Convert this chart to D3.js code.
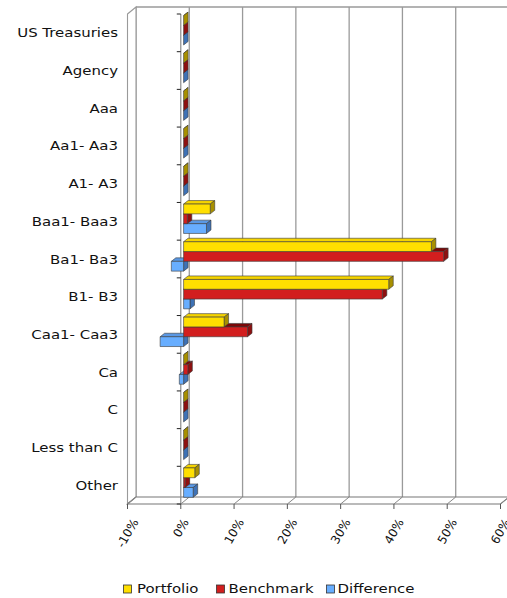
<!DOCTYPE html>
<html><head><meta charset="utf-8">
<script src="https://cdn.jsdelivr.net/npm/d3@7"></script>
<style>
html,body{margin:0;padding:0;background:#fff;}
svg{display:block;}
text{font-family:"DejaVu Sans",Verdana,sans-serif;fill:#111;}
</style></head>
<body>
<svg id="chart" width="507" height="598"></svg>
<script>
// ---- data ----
const categories = ["US Treasuries","Agency","Aaa","Aa1- Aa3","A1- A3","Baa1- Baa3","Ba1- Ba3","B1- B3","Caa1- Caa3","Ca","C","Less than C","Other"];
const portfolio  = [0,0,0,0,0,5.0,46.5,38.5,7.6,0,0,0,2.1];
const benchmark  = [0,0,0,0,0,0.7,48.8,37.3,12.0,0.8,0,0,0.3];
const difference = [0,0,0,0,0,4.3,-2.3,1.2,-4.4,-0.8,0,0,1.8];
const seriesNames = ["Portfolio","Benchmark","Difference"];
const tickValues = [-10,0,10,20,30,40,50,60];

const seriesColors = {
  Portfolio:  {front:"#FFDF00", top:"#F5D400", side:"#A89000"},
  Benchmark:  {front:"#D21E1E", top:"#7A0808", side:"#8E1010"},
  Difference: {front:"#68AEFF", top:"#5A98E4", side:"#3E72B6"}
};

const svg = d3.select("#chart");

// ---- geometry ----
const x = d3.scaleLinear().domain([-10,60]).range([127.5,500.5]);
const y = d3.scaleBand().domain(categories).range([14,504]);
const DX = 8.5, DY = -7;          // chart depth
const bx = 2.8, by = -2.2;        // bar front-plane offset
const bdx = 4.5, bdy = -3.5;      // bar depth
const pad = 3.8, bh = 9.8;
const yInner = d3.scaleBand().domain(seriesNames).range([pad, pad + 3*bh]);

const gridColor = "#9a9a9a";

// back wall
svg.append("rect").attr("x", x(-10)+DX).attr("y", y.range()[0]+DY)
  .attr("width", 600).attr("height", y.range()[1]-y.range()[0]).attr("fill","#fff");

// back wall vertical gridlines
svg.append("g").selectAll("line").data(tickValues).join("line")
  .attr("x1", d => x(d)+DX).attr("x2", d => x(d)+DX)
  .attr("y1", y.range()[0]+DY).attr("y2", y.range()[1]+DY)
  .attr("stroke", gridColor).attr("stroke-width", 1.3);

// back wall top edge
svg.append("line").attr("x1", x(-10)+DX).attr("x2", 520)
  .attr("y1", y.range()[0]+DY).attr("y2", y.range()[0]+DY)
  .attr("stroke", gridColor).attr("stroke-width", 1.3);

// left wall
const lw = [[x(-10), y.range()[0]], [x(-10)+DX, y.range()[0]+DY], [x(-10)+DX, y.range()[1]+DY], [x(-10), y.range()[1]]];
svg.append("polygon").attr("points", lw.map(p=>p.join(",")).join(" "))
  .attr("fill","#fff").attr("stroke", gridColor).attr("stroke-width", 1.1);

// floor
const fl = [[x(-10), y.range()[1]], [x(-10)+DX, y.range()[1]+DY], [x(60)+DX, y.range()[1]+DY], [x(60), y.range()[1]]];
svg.append("polygon").attr("points", fl.map(p=>p.join(",")).join(" "))
  .attr("fill","#fff").attr("stroke", "#777").attr("stroke-width", 1.1);
svg.append("g").selectAll("line").data(tickValues).join("line")
  .attr("x1", d => x(d)).attr("x2", d => x(d)+DX)
  .attr("y1", y.range()[1]).attr("y2", y.range()[1]+DY)
  .attr("stroke", "#888").attr("stroke-width", 1);
// floor front ticks
svg.append("g").selectAll("line").data(tickValues).join("line")
  .attr("x1", d => x(d)).attr("x2", d => x(d))
  .attr("y1", y.range()[1]).attr("y2", y.range()[1]+5)
  .attr("stroke", "#555").attr("stroke-width", 1);

// category axis at 0
svg.append("line").attr("x1", x(0)).attr("x2", x(0))
  .attr("y1", y.range()[0]).attr("y2", y.range()[1])
  .attr("stroke", "#8a8a8a").attr("stroke-width", 1.2);
const bounds = categories.map(c => y(c)).concat([y.range()[1]]);
svg.append("g").selectAll("line").data(bounds).join("line")
  .attr("x1", x(0)-4).attr("x2", x(0))
  .attr("y1", d => d).attr("y2", d => d)
  .attr("stroke", "#222").attr("stroke-width", 1);

// bars
const seriesData = {Portfolio: portfolio, Benchmark: benchmark, Difference: difference};
const barsG = svg.append("g");
const order = [];
for (let i = categories.length-1; i >= 0; i--) {
  ["Difference","Benchmark","Portfolio"].forEach(s => order.push({cat: categories[i], s, v: seriesData[s][i]}));
}
order.forEach(d => {
  const x1 = x(Math.min(0,d.v)) + bx, x2 = x(Math.max(0,d.v)) + bx;
  const y1 = y(d.cat) + yInner(d.s) + by, y2 = y1 + yInner.bandwidth();
  const c = seriesColors[d.s];
  const g = barsG.append("g").attr("stroke","#3a3a3a").attr("stroke-width",0.6).attr("stroke-linejoin","round");
  g.append("polygon").attr("points", [[x1,y1],[x2,y1],[x2+bdx,y1+bdy],[x1+bdx,y1+bdy]].map(p=>p.join(",")).join(" "))
    .attr("fill", c.top);
  g.append("polygon").attr("points", [[x2,y1],[x2+bdx,y1+bdy],[x2+bdx,y2+bdy],[x2,y2]].map(p=>p.join(",")).join(" "))
    .attr("fill", c.side);
  g.append("rect").attr("x", x1).attr("y", y1).attr("width", Math.max(0,x2-x1)).attr("height", y2-y1)
    .attr("fill", c.front);
});

// category labels
svg.append("g").selectAll("text").data(categories).join("text")
  .attr("transform", d => `translate(118,${y(d)+y.bandwidth()/2}) scale(1.15,1)`)
  .attr("text-anchor","end").attr("dy","0.35em").attr("font-size",13).text(d => d);

// value tick labels (rotated)
const ang = 60, rad = ang*Math.PI/180;
const tl = svg.append("g").selectAll("text").data(tickValues).join("text")
  .attr("font-size",12).attr("text-anchor","middle").attr("dy","0.35em")
  .text(d => d + "%");
tl.each(function(d){
  const L = this.getComputedTextLength();
  const hgt = L*Math.sin(rad) + 11*Math.cos(rad);
  d3.select(this).attr("transform", `translate(${x(d)},${517 + hgt/2}) rotate(${-ang})`);
});

// legend
const legendItems = [
  {name:"Portfolio", mx:123.5, tx:137},
  {name:"Benchmark", mx:216.5, tx:228.5},
  {name:"Difference", mx:326.5, tx:337.5}
];
const lg = svg.append("g");
legendItems.forEach(it => {
  lg.append("rect").attr("x", it.mx).attr("y", 585).attr("width", 8).attr("height", 8)
    .attr("fill", seriesColors[it.name].front).attr("stroke","#333").attr("stroke-width",0.8);
  lg.append("text").attr("transform", `translate(${it.tx},593) scale(1.15,1)`)
    .attr("font-size",13).text(it.name);
});
</script>
</body></html>
